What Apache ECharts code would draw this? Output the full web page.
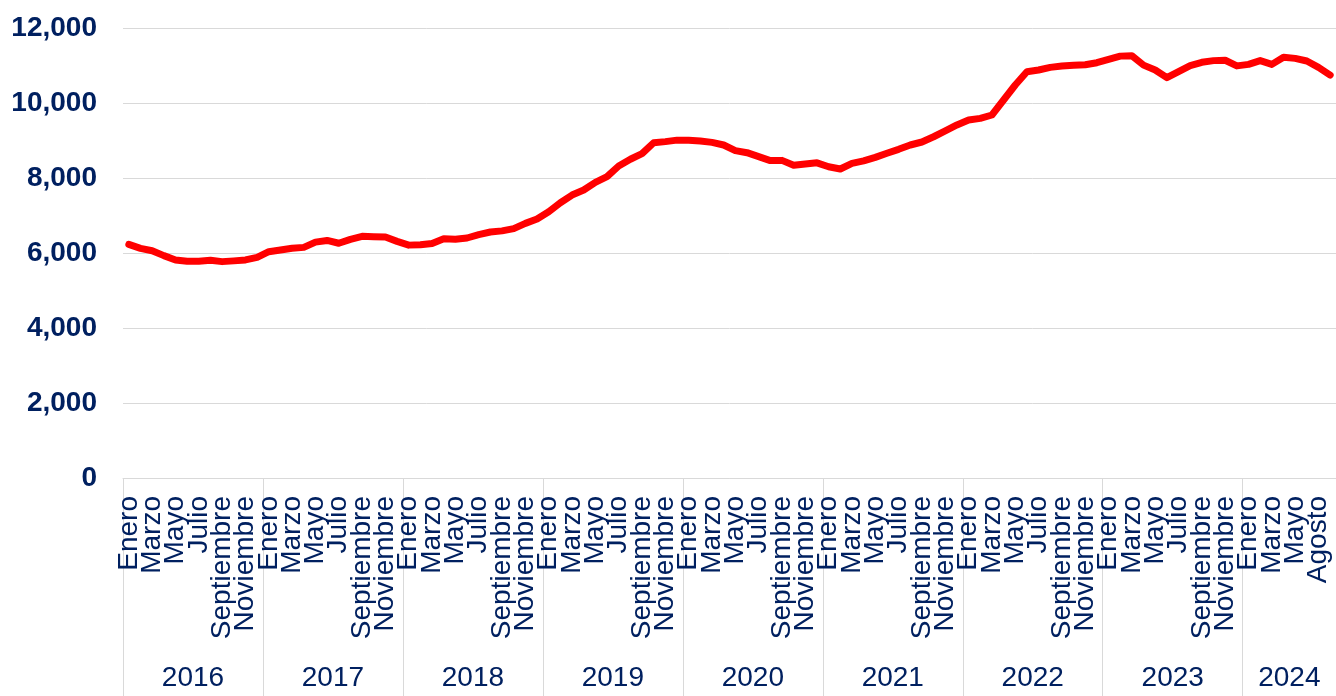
<!DOCTYPE html>
<html>
<head>
<meta charset="utf-8">
<script src="https://cdn.jsdelivr.net/npm/echarts@6/dist/echarts.min.js"></script>
<style>
  html, body { margin: 0; padding: 0; background: #fff; }
  #chart { width: 1336px; height: 696px; }
</style>
</head>
<body>
<div id="chart"></div>
<script>
const years = ['2016', '2017', '2018', '2019', '2020', '2021', '2022', '2023', '2024']
const monthNames = ['Enero', 'Febrero', 'Marzo', 'Abril', 'Mayo', 'Junio', 'Julio', 'Agosto', 'Septiembre', 'Octubre', 'Noviembre', 'Diciembre']
const monthsPerYear = [12, 12, 12, 12, 12, 12, 12, 12, 8]

// months shown under the axis, as printed in the picture ('' = not printed)
const shownLabels2024 = ['Enero', '', 'Marzo', '', 'Mayo', '', 'Agosto', '']

const values = [
  // 2016
  6230, 6125, 6060, 5930, 5815, 5780, 5780, 5805, 5770, 5790, 5815, 5885,
  // 2017
  6035, 6080, 6125, 6150, 6290, 6335, 6260, 6365, 6445, 6435, 6425, 6310,
  // 2018
  6210, 6220, 6255, 6380, 6365, 6400, 6490, 6560, 6590, 6650, 6790, 6905,
  // 2019
  7100, 7340, 7545, 7680, 7885, 8035, 8320, 8500, 8650, 8940, 8970, 9010,
  // 2020
  9005, 8985, 8950, 8880, 8730, 8675, 8570, 8465, 8470, 8340, 8375, 8405,
  // 2021
  8300, 8240, 8390, 8455, 8550, 8660, 8765, 8880, 8960, 9100, 9255, 9415,
  // 2022
  9545, 9590, 9680, 10080, 10480, 10835, 10880, 10950, 10985, 11005, 11020, 11075,
  // 2023
  11165, 11250, 11260, 11010, 10880, 10675, 10835, 10995, 11085, 11130, 11140, 10990,
  // 2024
  11030, 11130, 11030, 11220, 11190, 11120, 10950, 10745
]

const categories = []
const tickLabels = []
const yearStarts = []
const yearCenters = []
years.forEach((y, k) => {
  yearStarts.push(categories.length)
  yearCenters.push(categories.length + monthsPerYear[k] / 2)
  for (let m = 0; m < monthsPerYear[k]; m++) {
    categories.push(monthNames[m] + ' ' + y)
    if (y === '2024') tickLabels.push(shownLabels2024[m])
    else tickLabels.push(m % 2 === 0 ? monthNames[m] : '')
  }
})
yearStarts.push(categories.length)

const navy = '#002060'
const gridColor = '#d9d9d9'
const font = '"Liberation Sans", Arial, sans-serif'

const chart = echarts.init(document.getElementById('chart'))
chart.setOption({
  animation: false,
  grid: { left: 123, right: 0, top: 28, bottom: 218 },
  xAxis: [
    {
      type: 'category',
      data: categories,
      boundaryGap: true,
      axisLine: { lineStyle: { color: gridColor, width: 1 } },
      axisTick: { show: false },
      axisLabel: {
        interval: 0,
        rotate: 90,
        margin: 18,
        fontSize: 28,
        fontFamily: font,
        color: navy,
        formatter: (v, i) => tickLabels[i]
      }
    },
    {
      type: 'value',
      position: 'bottom',
      min: 0,
      max: categories.length,
      axisLine: { show: false },
      splitLine: { show: false },
      axisTick: {
        show: true,
        customValues: yearStarts,
        length: 218,
        lineStyle: { color: gridColor, width: 1 }
      },
      axisLabel: {
        customValues: yearCenters,
        margin: 186,
        fontSize: 28,
        fontFamily: font,
        color: navy,
        formatter: (v) => years[yearCenters.indexOf(v)] || ''
      }
    }
  ],
  yAxis: {
    type: 'value',
    min: 0,
    max: 12000,
    interval: 2000,
    axisLine: { show: false },
    axisTick: { show: false },
    splitLine: { lineStyle: { color: gridColor, width: 1 } },
    axisLabel: {
      margin: 26,
      fontSize: 28,
      fontWeight: 'bold',
      fontFamily: font,
      color: navy,
      formatter: (v) => v.toLocaleString('en-US')
    }
  },
  series: [{
    type: 'line',
    data: values,
    showSymbol: false,
    symbol: 'none',
    lineStyle: { color: '#ff0000', width: 7, cap: 'round', join: 'round' }
  }]
})
</script>
</body>
</html>
